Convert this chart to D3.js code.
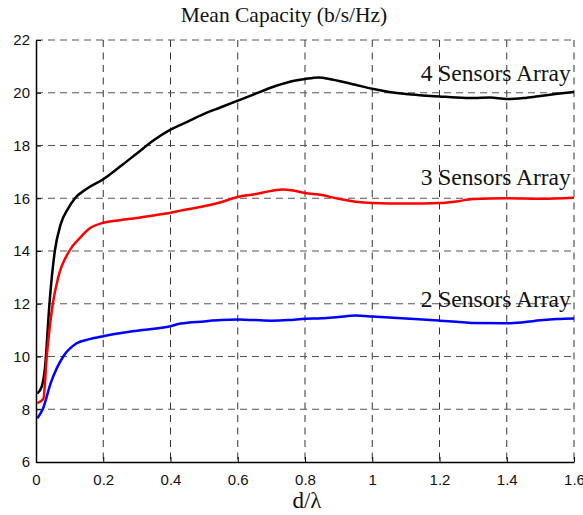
<!DOCTYPE html>
<html>
<head>
<meta charset="utf-8">
<script src="https://cdn.jsdelivr.net/npm/d3@7"></script>
<style>
	body { margin: 0; background: white; }
	svg { display: block; }
</style>
</head>
<body>
<div id="chart"></div>
<script>

const dSpacing = [0.004, 0.017, 0.027, 0.04, 0.056, 0.073, 0.095, 0.116, 0.15, 0.2, 0.25, 0.3, 0.35, 0.4, 0.45, 0.5, 0.55, 0.6, 0.65, 0.7, 0.75, 0.8, 0.84, 0.88, 0.95, 1.0, 1.05, 1.1, 1.15, 1.2, 1.25, 1.3, 1.35, 1.4, 1.45, 1.5, 1.55, 1.6];

const cap4 = [8.6, 8.86, 9.61, 12.0, 14.0, 15.0, 15.6, 16.0, 16.35, 16.72, 17.2, 17.7, 18.2, 18.6, 18.9, 19.2, 19.45, 19.7, 19.95, 20.2, 20.4, 20.52, 20.58, 20.5, 20.3, 20.15, 20.03, 19.95, 19.9, 19.86, 19.82, 19.8, 19.82, 19.76, 19.8, 19.88, 19.96, 20.03];

// 3 sensors has its own sampling at the start as it rises a bit later.
const dSpacing3 = [0.004, 0.022, 0.032, 0.05, 0.066, 0.099, 0.131, 0.16, 0.2, 0.25, 0.3, 0.35, 0.4, 0.43, 0.5, 0.55, 0.6, 0.65, 0.7, 0.735, 0.76, 0.8, 0.85, 0.9, 0.95, 1.0, 1.1, 1.2, 1.25, 1.3, 1.4, 1.5, 1.6];
const cap3 = [8.23, 8.4, 10.0, 12.0, 13.0, 14.0, 14.5, 14.86, 15.07, 15.17, 15.25, 15.35, 15.45, 15.53, 15.7, 15.85, 16.05, 16.15, 16.28, 16.33, 16.3, 16.2, 16.12, 15.98, 15.87, 15.82, 15.8, 15.82, 15.88, 15.97, 16.0, 15.98, 16.02];

const dSpacing2 = [0.004, 0.02, 0.044, 0.081, 0.121, 0.16, 0.2, 0.3, 0.4, 0.43, 0.5, 0.55, 0.6, 0.65, 0.7, 0.75, 0.8, 0.85, 0.9, 0.95, 1.0, 1.05, 1.1, 1.15, 1.2, 1.25, 1.3, 1.4, 1.45, 1.5, 1.55, 1.6];
const cap2 = [7.66, 8.0, 9.0, 10.0, 10.5, 10.66, 10.77, 10.98, 11.15, 11.25, 11.33, 11.38, 11.4, 11.38, 11.36, 11.38, 11.43, 11.45, 11.5, 11.55, 11.52, 11.48, 11.44, 11.4, 11.36, 11.32, 11.27, 11.26, 11.3, 11.37, 11.42, 11.44];

const seriesNames = ["4 Sensors Array", "3 Sensors Array", "2 Sensors Array"];
const seriesColors = ["black", "red", "blue"];

const xTicks = [0, 0.2, 0.4, 0.6, 0.8, 1, 1.2, 1.4, 1.6];
const yTicks = [6, 8, 10, 12, 14, 16, 18, 20, 22];

const titleText = "Mean Capacity (b/s/Hz)";
const xLabelText = "d/\u03bb";


// Frame, matching the matlab figure.
let W = 583, H = 515;
let margin = {top: 40, right: 9, bottom: 53, left: 36};
let iw = W - margin.left - margin.right;
let ih = H - margin.top - margin.bottom;

let svg = d3.select("#chart")
  .append("svg")
	.attr("width", W)
	.attr("height", H);

let x = d3.scaleLinear().domain([0, 1.6]).range([0, iw]);
let y = d3.scaleLinear().domain([6, 22]).range([ih, 0]);

let g = svg.append("g")
	.attr("transform", `translate(${margin.left},${margin.top})`);


// Grid first so the curves sit on top.
g.append("g")
	.attr("class", "grid-x")
  .selectAll("line")
  .data(xTicks.filter(d=>d>0))
  .enter()
  .append("line")
	.attr("x1", d=>x(d)).attr("x2", d=>x(d))
	.attr("y1", 0).attr("y2", ih)
	.attr("stroke", "#333")
	.attr("stroke-width", 1)
	.attr("stroke-dasharray", "7,5.5");

g.append("g")
	.attr("class", "grid-y")
  .selectAll("line")
  .data(yTicks.filter(d=>d>6))
  .enter()
  .append("line")
	.attr("x1", 0).attr("x2", iw)
	.attr("y1", d=>y(d)).attr("y2", d=>y(d))
	.attr("stroke", "#555")
	.attr("stroke-width", 1)
	.attr("stroke-dasharray", "7,5");


// Axes: inward ticks, sans serif labels.
let xAxis = d3.axisBottom(x)
	.tickValues(xTicks)
	.tickSizeInner(-5)
	.tickSizeOuter(0)
	.tickPadding(12)
	.tickFormat(d=>d3.format("")(d));

let yAxis = d3.axisLeft(y)
	.tickValues(yTicks)
	.tickSizeInner(-5)
	.tickSizeOuter(0)
	.tickPadding(6);

let gx = g.append("g")
	.attr("transform", `translate(0,${ih})`)
	.call(xAxis);

let gy = g.append("g")
	.call(yAxis);

[gx, gy].forEach(a=>{
	a.select(".domain").attr("stroke", "black").attr("stroke-width", 1.5);
	a.selectAll(".tick line").attr("stroke", "black");
	a.selectAll(".tick text")
	  .attr("fill", "#111")
	  .style("font-family", "'Liberation Sans', Arial, sans-serif")
	  .style("font-size", "15px");
});


// The three curves.
let series = [
	{name: seriesNames[0], color: seriesColors[0], xs: dSpacing, ys: cap4},
	{name: seriesNames[1], color: seriesColors[1], xs: dSpacing3, ys: cap3},
	{name: seriesNames[2], color: seriesColors[2], xs: dSpacing2, ys: cap2}
];

let line = d3.line()
	.x(d=>x(d[0]))
	.y(d=>y(d[1]))
	.curve(d3.curveMonotoneX);

g.append("g")
	.attr("class", "data")
  .selectAll("path")
  .data(series)
  .enter()
  .append("path")
	.attr("fill", "none")
	.attr("stroke", d=>d.color)
	.attr("stroke-width", 2.5)
	.attr("stroke-linejoin", "round")
	.attr("d", d=>line(d.xs.map((v,i)=>[v, d.ys[i]])));


// Curve labels, left aligned just after the 1.2 gridline.
let labelY = [20.45, 16.5, 11.89];
g.append("g")
  .selectAll("text")
  .data(series)
  .enter()
  .append("text")
	.attr("x", x(1.144))
	.attr("y", (d,i)=>y(labelY[i]))
	.style("font-family", "'Liberation Serif', 'Times New Roman', serif")
	.style("font-size", "23.5px")
	.attr("fill", "#111")
	.text(d=>d.name);


// Title and x label.
svg.append("text")
	.attr("x", 284)
	.attr("y", 22)
	.attr("text-anchor", "middle")
	.style("font-family", "'Liberation Serif', 'Times New Roman', serif")
	.style("font-size", "21.5px")
	.attr("fill", "#111")
	.text(titleText);

svg.append("text")
	.attr("x", 307)
	.attr("y", 508)
	.attr("text-anchor", "middle")
	.style("font-family", "'Liberation Serif', 'Times New Roman', serif")
	.style("font-size", "23px")
	.attr("fill", "#111")
	.text(xLabelText);

</script>
</body>
</html>
